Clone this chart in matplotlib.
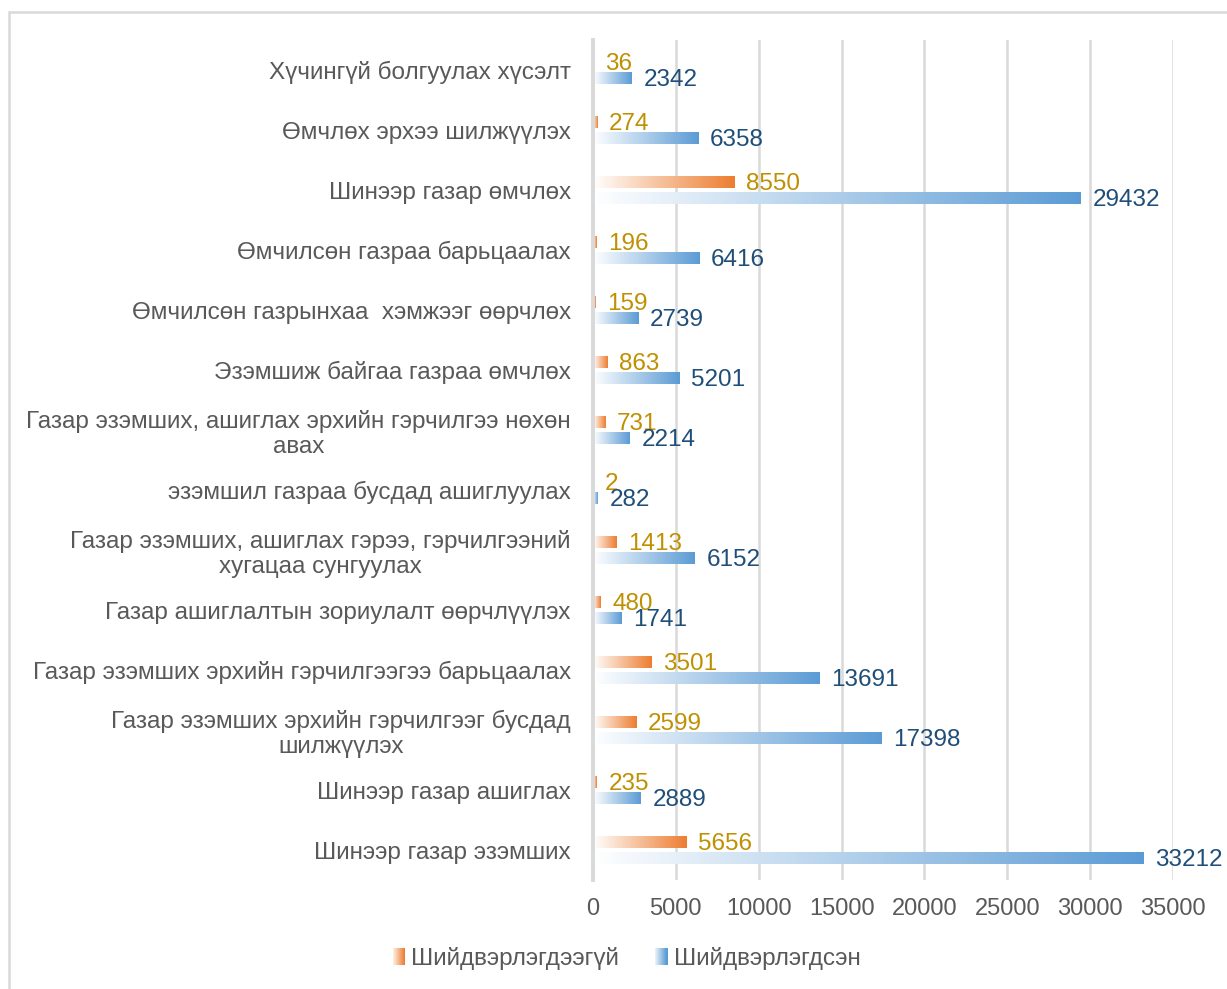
import matplotlib
matplotlib.use("Agg")
import matplotlib.pyplot as plt
import numpy as np
from matplotlib.colors import LinearSegmentedColormap, to_rgb
from matplotlib.legend_handler import HandlerBase
from matplotlib.patches import Rectangle

plt.rcParams["font.family"] = ["Liberation Sans", "DejaVu Sans"]

# Categories top to bottom
categories = [
    "Хүчингүй болгуулах хүсэлт",
    "Өмчлөх эрхээ шилжүүлэх",
    "Шинээр газар өмчлөх",
    "Өмчилсөн газраа барьцаалах",
    "Өмчилсөн газрынхаа  хэмжээг өөрчлөх",
    "Эзэмшиж байгаа газраа өмчлөх",
    "Газар эзэмших, ашиглах эрхийн гэрчилгээ нөхөн\nавах",
    "эзэмшил газраа бусдад ашиглуулах",
    "Газар эзэмших, ашиглах гэрээ, гэрчилгээний\nхугацаа сунгуулах",
    "Газар ашиглалтын зориулалт өөрчлүүлэх",
    "Газар эзэмших эрхийн гэрчилгээгээ барьцаалах",
    "Газар эзэмших эрхийн гэрчилгээг бусдад\nшилжүүлэх",
    "Шинээр газар ашиглах",
    "Шинээр газар эзэмших",
]
unresolved = [36, 274, 8550, 196, 159, 863, 731, 2, 1413, 480, 3501, 2599, 235, 5656]
resolved = [2342, 6358, 29432, 6416, 2739, 5201, 2214, 282, 6152, 1741, 13691, 17398, 2889, 33212]
x_ticks = [0, 5000, 10000, 15000, 20000, 25000, 30000, 35000]

series_names = ["Шийдвэрлэгдээгүй", "Шийдвэрлэгдсэн"]
ORANGE = "#ED7D31"
BLUE = "#5B9BD5"
ORANGE_TXT = "#BF9000"
BLUE_TXT = "#1F4E79"
GREY_TXT = "#595959"
GRID = "#D9D9D9"
FS = 17.5


def gradient_cmap(color):
    return LinearSegmentedColormap.from_list("g", [(1, 1, 1), to_rgb(color)])


def gradient_bar(ax, value, yc, h, color):
    grad = np.linspace(0, 1, 256).reshape(1, -1)
    ax.imshow(grad, cmap=gradient_cmap(color), aspect="auto",
              extent=[0, value, yc + h / 2, yc - h / 2], zorder=3,
              interpolation="bilinear")


class GradientHandler(HandlerBase):
    def __init__(self, color):
        super().__init__()
        self.color = color

    def create_artists(self, legend, orig_handle, xdescent, ydescent,
                       width, height, fontsize, trans):
        n = 12
        w = width
        x0 = -xdescent
        cmap = gradient_cmap(self.color)
        arts = []
        for k in range(n):
            arts.append(Rectangle((x0 + w * k / n, -ydescent - 0.05 * height),
                                  w / n + 0.3, height * 1.0,
                                  facecolor=cmap(0.15 + 0.85 * k / (n - 1)),
                                  edgecolor="none", transform=trans))
        return arts


fig = plt.figure(figsize=(12.27, 9.89), dpi=100)
ax = fig.add_axes([593 / 1227, 1 - 880 / 989, (1173 - 593) / 1227, (880 - 40) / 989])

h = 0.19
off = 0.13
txt_dy = 0.035
for i in range(len(categories)):
    gradient_bar(ax, unresolved[i], i - off, h, ORANGE)
    gradient_bar(ax, resolved[i], i + off, h, BLUE)
    ax.text(unresolved[i] + 700, i - off + txt_dy, str(unresolved[i]), color=ORANGE_TXT,
            fontsize=FS, va="center", ha="left", zorder=5)
    ax.text(resolved[i] + 700, i + off + txt_dy, str(resolved[i]), color=BLUE_TXT,
            fontsize=FS, va="center", ha="left", zorder=5)

ax.set_xlim(0, 35000)
ax.set_ylim(len(categories) - 0.5, -0.5)
ax.set_yticks(range(len(categories)))
ax.set_yticklabels(categories, multialignment="center")
ax.set_xticks(x_ticks)
ax.set_xticklabels([str(t) for t in x_ticks])
ax.tick_params(axis="y", length=0, pad=16, labelsize=FS, labelcolor=GREY_TXT)
ax.tick_params(axis="x", length=0, pad=13, labelsize=FS - 0.5, labelcolor=GREY_TXT)
ax.grid(axis="x", color=GRID, linewidth=1.8)
ax.set_axisbelow(True)
for s in ["top", "right", "bottom"]:
    ax.spines[s].set_visible(False)
ax.spines["left"].set_color(GRID)
ax.spines["left"].set_linewidth(2.8)
ax.spines["left"].set_zorder(4)

h1 = Rectangle((0, 0), 1, 1)
h2 = Rectangle((0, 0), 1, 1)
fig.legend([h1, h2], series_names, loc="center",
           bbox_to_anchor=(0.5 + 13 / 1227, 1 - 958 / 989),
           ncol=2, frameon=False, fontsize=FS, labelcolor=GREY_TXT,
           handler_map={h1: GradientHandler(ORANGE), h2: GradientHandler(BLUE)},
           handlelength=0.5, handletextpad=0.25, columnspacing=1.5)

# outer chart frame (extends past the crop)
fig.patches.append(Rectangle((9 / 1227, -0.1), 1.2, 1.1 - 12 / 989, transform=fig.transFigure,
                             facecolor="none", edgecolor=GRID, linewidth=1.8))

fig.savefig("out.png", dpi=100)
